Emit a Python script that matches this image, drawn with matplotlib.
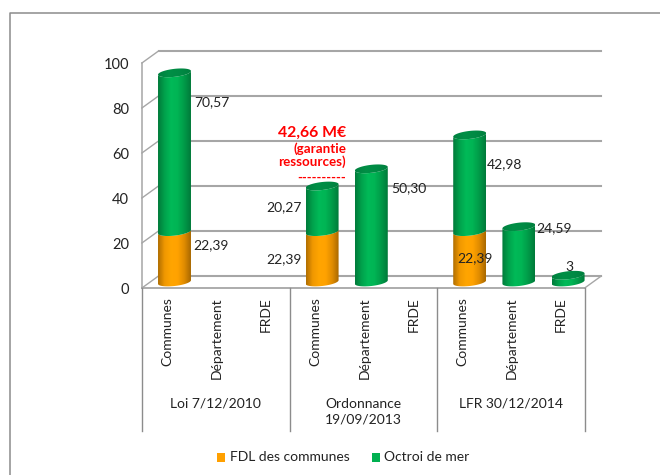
import numpy as np
import matplotlib
matplotlib.use("Agg")
import matplotlib.pyplot as plt
from matplotlib.path import Path
from matplotlib.patches import PathPatch
from matplotlib.transforms import offset_copy
from matplotlib.colors import LinearSegmentedColormap

categories = ["Communes", "Département", "FRDE"] * 3
groups = ["Loi 7/12/2010", "Ordonnance\n19/09/2013", "LFR 30/12/2014"]
fdl = [22.39, 0, 0, 22.39, 0, 0, 22.39, 0, 0]
octroi = [70.57, 0, 0, 20.27, 50.30, 0, 42.98, 24.59, 3]
fdl_labels = ["22,39", "", "", "22,39", "", "", "22,39", "", ""]
octroi_labels = ["70,57", "", "", "20,27", "50,30", "", "42,98", "24,59", "3"]
yticks = [0, 20, 40, 60, 80, 100]
label_offsets_fdl = [(18.5, 12), None, None, (-56, -2), None, None, (-12, -1), None, None]
label_offsets_oct = [(20, 50), None, None, (-56, 2), (20, 37), None, (17, 19), (17, 26), (-3, 12)]

W, H = 660, 475
plt.rcParams["font.family"] = ["Lato", "DejaVu Sans"]
fig = plt.figure(figsize=(6.6, 4.75), dpi=100)
fs = 10
TXT = "#222222"

# axes = mid-depth plane of the 3D plot
X0, X1 = 149.9, 592.7
PX = 225.0 / 100  # pixels per value unit
Y0, Y100 = 282.0, 57.0
YMIN = -6
ax = fig.add_axes([X0 / W, 1 - (Y0 - YMIN * PX) / H, (X1 - X0) / W, (Y0 - YMIN * PX - Y100) / H])
ax.set_axis_off()
xl, xr = -0.5, 8.5
ax.set_xlim(xl, xr)
ax.set_ylim(YMIN, 100)
GRID = "#A6A6A6"
FRAME = "#8C8C8C"

back = offset_copy(ax.transData, fig=fig, x=8.6, y=6, units="dots")
front = offset_copy(ax.transData, fig=fig, x=-8, y=-6, units="dots")

# frame around the chart area
fig.add_artist(plt.Line2D([10.5 / W, 10.5 / W, 1], [0, 1 - 13 / H, 1 - 13 / H], color=FRAME, lw=1.1))


def wall(a, b, t0, t1, **kw):
    p0, p1 = t0.transform(a), t1.transform(b)
    ax.plot([p0[0], p1[0]], [p0[1], p1[1]], transform=None, clip_on=False, **kw)


for v in yticks:
    wall((xl, v), (xr, v), back, back, color=GRID, lw=1.5, zorder=1)
    wall((xl, v), (xl, v), front, back, color=GRID, lw=1.0, zorder=1)
    ax.text(xl, v, str(v), transform=offset_copy(ax.transData, fig=fig, x=-21, y=-8, units="dots"),
            ha="right", va="center", fontsize=fs + 0.5, color=TXT, clip_on=False)

wall((xl, 0), (xl, 100), front, front, color=GRID, lw=1.1, zorder=1)
wall((xl, 0), (xr, 0), front, front, color=GRID, lw=1.3, zorder=1)
wall((xr, 0), (xr, 0), front, back, color=GRID, lw=1.0, zorder=1)

# group separators and category labels below the floor
sep_bottom = 431
for xs in [-0.5, 2.5, 5.5, 8.5]:
    px = front.transform((xs, 0))[0]
    fig.add_artist(plt.Line2D([px / W, px / W], [1 - 288 / H, 1 - sep_bottom / H], color=FRAME, lw=1.0))
for i, c in enumerate(categories):
    px = front.transform((i, 0))[0]
    fig.text((px + 1) / W, 1 - 297 / H, c, rotation=90, ha="center", va="top", fontsize=fs, color=TXT)
for i, g in enumerate(groups):
    px = front.transform((i * 3 + 1, 0))[0]
    fig.text(px / W, 1 - (403 if "\n" not in g else 412) / H, g, ha="center", va="center",
             fontsize=fs, color=TXT, linespacing=1.4)

# cylinders
HALF = 0.335  # half-width, category units
EH = 4.0 / PX  # ellipse half-height, value units
TILT = 1.8 / PX
t = np.linspace(0, np.pi, 60)
front_x = HALF * np.cos(t)
front_low = -EH * np.sin(t) + TILT * np.cos(t)

green = LinearSegmentedColormap.from_list("g", ["#007A3A", "#00A24C", "#00BA58", "#00B454", "#009A48", "#007A3A"])
orange = LinearSegmentedColormap.from_list("o", ["#B06E00", "#F09800", "#FFA500", "#FFA200", "#E08C00", "#A86800"])
top_g = LinearSegmentedColormap.from_list("tg", ["#00803F", "#008F46", "#008A44", "#007F3E"])
grad = np.linspace(0, 1, 128).reshape(1, -1)


def clip_image(xa, xb, y0, y1, cmap, path_xy, z):
    im = ax.imshow(grad, cmap=cmap, extent=[xa, xb, y0, y1], aspect="auto", zorder=z, origin="lower")
    patch = PathPatch(Path(path_xy), transform=ax.transData, fc="none", ec="none")
    ax.add_patch(patch)
    im.set_clip_path(patch)


def cylinder(x, v0, v1, cmap, z):
    lo = np.column_stack([x + front_x, v0 + front_low])
    hi = np.column_stack([x + front_x[::-1], v1 + front_low[::-1]])
    poly = np.vstack([lo, hi, lo[:1]])
    clip_image(x - HALF, x + HALF, v0 - 2 * EH, v1 + 2 * EH, cmap, poly, z)


def cap(x, v, z):
    tt = np.linspace(0, 2 * np.pi, 100)
    poly = np.column_stack([x + HALF * np.cos(tt), v + EH * np.sin(tt) + TILT * np.cos(tt)])
    clip_image(x - HALF, x + HALF, v - 2 * EH, v + 2 * EH, top_g, poly, z)


for i in range(9):
    z = 3 + i
    if fdl[i] > 0:
        cylinder(i, 0, fdl[i], orange, z)
    if octroi[i] > 0:
        cylinder(i, fdl[i], fdl[i] + octroi[i], green, z + 0.1)
        cap(i, fdl[i] + octroi[i], z + 0.2)
    if fdl_labels[i]:
        dx, dy = label_offsets_fdl[i]
        ax.annotate(fdl_labels[i], (i, fdl[i] / 2), xytext=(dx, dy), textcoords="offset pixels",
                    ha="left", va="center", fontsize=fs, color=TXT, zorder=20, annotation_clip=False)
    if octroi_labels[i]:
        dx, dy = label_offsets_oct[i]
        ax.annotate(octroi_labels[i], (i, fdl[i] + octroi[i] / 2), xytext=(dx, dy), textcoords="offset pixels",
                    ha="left", va="center", fontsize=fs, color=TXT, zorder=20, annotation_clip=False)

ax.set_xlim(xl, xr)
ax.set_ylim(YMIN, 100)

# red annotation
RED = "#FF0000"
right = 346
fig.text(right / W, 1 - 133 / H, "42,66 M€", ha="right", va="center", color=RED, fontsize=11.3, fontweight="bold")
fig.text(right / W, 1 - 149 / H, "(garantie", ha="right", va="center", color=RED, fontsize=9.6, fontweight="bold")
fig.text(right / W, 1 - 162 / H, "ressources)", ha="right", va="center", color=RED, fontsize=9.6, fontweight="bold")
fig.text(right / W, 1 - 178 / H, "----------", ha="right", va="center", color=RED, fontsize=9.5, fontweight="bold")

# legend
for sx, col, lab, tx in [(217, "#FFA000", "FDL des communes", 230), (372, "#00B050", "Octroi de mer", 384)]:
    fig.add_artist(plt.Rectangle((sx / W, 1 - 462 / H), 8 / W, 9 / H, transform=fig.transFigure, fc=col, ec="none"))
    fig.text(tx / W, 1 - 457 / H, lab, ha="left", va="center", fontsize=fs, color=TXT)

fig.savefig("out.png", dpi=100)
